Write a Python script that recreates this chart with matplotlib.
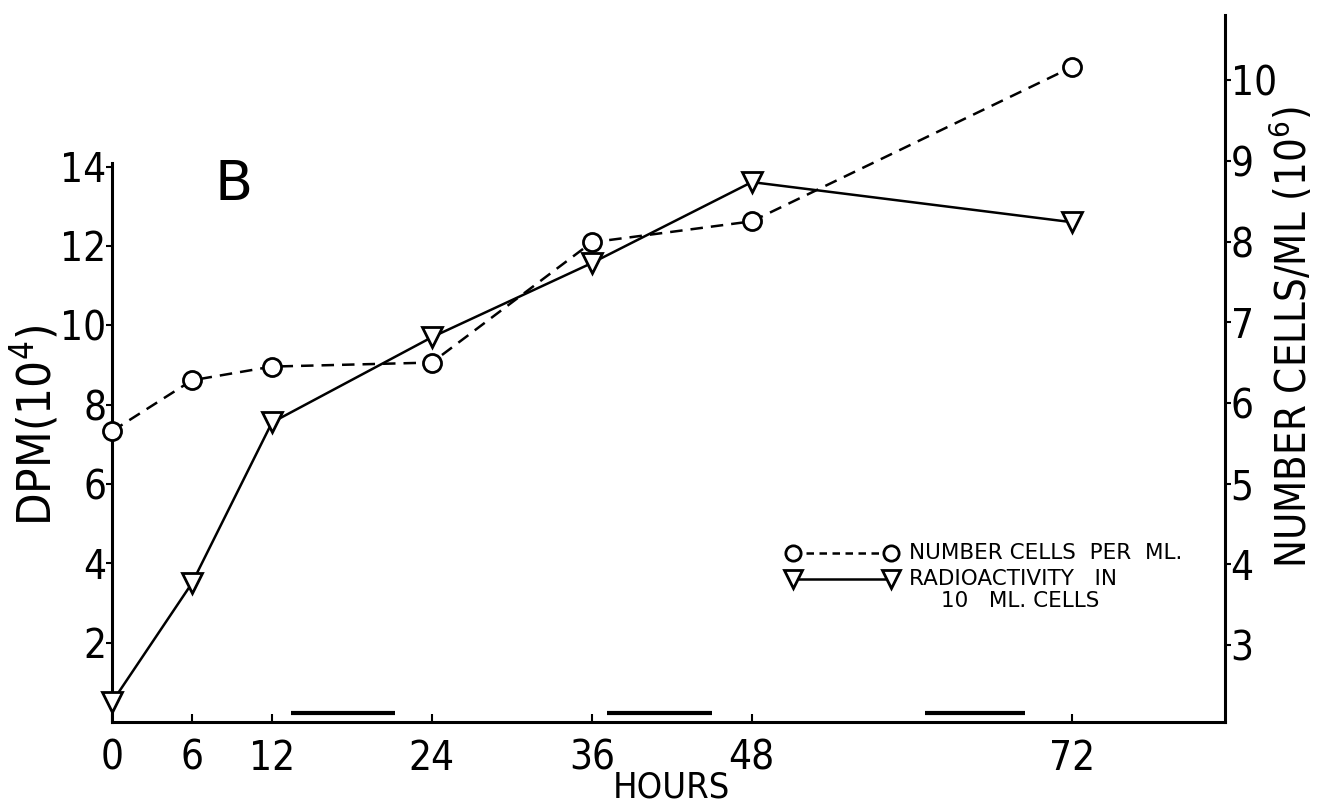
import matplotlib
matplotlib.use("Agg")
import matplotlib.pyplot as plt
import matplotlib.font_manager as fm

# ---- data ----
hours = [0, 6, 12, 24, 36, 48, 72]
cells_per_ml = [5.65, 6.28, 6.45, 6.5, 7.99, 8.25, 10.16]     # right axis, 10^6
dpm = [0.5, 3.5, 7.55, 9.7, 11.57, 13.61, 12.6]               # left axis, 10^4
dark_periods = [(13.4, 21.2), (37.1, 45.0), (61.0, 68.5)]      # hours
xticks = [0, 6, 12, 24, 36, 48, 72]
yticks_left = [2, 4, 6, 8, 10, 12, 14]
yticks_right = [3, 4, 5, 6, 7, 8, 9, 10]

# ---- pick a condensed face if one is installed ----
cond = {'condensed', 'semi-condensed', 'extra-condensed', 'ultra-condensed'}
cands = []
for f in fm.fontManager.ttflist:
    st = f.stretch
    ok = (st < 500) if isinstance(st, (int, float)) else (st in cond)
    if ok:
        cands.append(f)
pref = ['DejaVu Sans', 'Roboto', 'Open Sans', 'Noto Sans', 'Liberation Sans Narrow', 'Lato', 'Inter']
chosen = None
for p in pref:
    for f in cands:
        if f.name == p and f.style == 'normal':
            w = f.weight if isinstance(f.weight, int) else 400
            cw = (chosen.weight if isinstance(chosen.weight, int) else 400) if chosen else None
            if chosen is None or abs(w - 350) < abs(cw - 350):
                chosen = f
    if chosen is not None:
        break

if chosen is not None:
    cfont = dict(family=[chosen.name, 'DejaVu Sans'], stretch=chosen.stretch, weight=chosen.weight)
    sc = 1.0
else:
    cfont = dict(family=['DejaVu Sans'], stretch='normal', weight='normal')
    sc = 0.82
nfont = dict(family=['DejaVu Sans'], stretch='normal', weight='normal')

plt.rcParams['font.family'] = cfont['family']
plt.rcParams['font.stretch'] = cfont['stretch']
plt.rcParams['font.weight'] = cfont['weight']
plt.rcParams['mathtext.default'] = 'regular'

W, H = 1318, 806
fig = plt.figure(figsize=(W / 100, H / 100), dpi=100)
x0, x1 = 112, 1225
ybot, ytop = 722, 15
ax = fig.add_axes([x0 / W, 1 - ybot / H, (x1 - x0) / W, (ybot - ytop) / H])
ax.patch.set_alpha(0)

px_per_dpm = 39.67
px_per_cell = 80.7
ax.set_xlim(0, 83.5)
ax.set_ylim(0, (ybot - ytop) / px_per_dpm)

ax2 = ax.twinx()
r_lo = 3 - (ybot - 645) / px_per_cell
ax2.set_ylim(r_lo, r_lo + (ybot - ytop) / px_per_cell)

lw_ax = 2.2
for a in (ax, ax2):
    for s in a.spines.values():
        s.set_visible(False)
ax.spines['bottom'].set_visible(True)
ax.spines['bottom'].set_linewidth(lw_ax)
ax.spines['left'].set_visible(True)
ax.spines['left'].set_linewidth(lw_ax)
ax.spines['left'].set_bounds(0, 14.1)
ax2.spines['right'].set_visible(True)
ax2.spines['right'].set_linewidth(lw_ax)

tick_fs = 29 * sc
ax.set_xticks(xticks)
ax.set_xticklabels([str(t) for t in xticks], fontsize=tick_fs)
ax.tick_params(axis='x', direction='in', length=6, width=1.5, pad=12)
ax.set_yticks(yticks_left)
ax.set_yticklabels([str(t) for t in yticks_left], fontsize=tick_fs)
ax.tick_params(axis='y', direction='out', length=4, width=1.5, pad=0)
ax2.set_yticks(yticks_right)
ax2.set_yticklabels([str(t) for t in yticks_right], fontsize=tick_fs)
ax2.tick_params(axis='y', direction='out', length=4, width=1.5, pad=0)

ax.set_xlabel('HOURS', fontsize=26 * sc, va='baseline')
ax.xaxis.set_label_coords(0.503, -0.1065)
ax.set_ylabel('DPM(10$^4$)', fontsize=34 * sc)
ax.yaxis.set_label_coords(-0.046, 0.42)
ax2.set_ylabel('NUMBER CELLS/ML (10$^6$)', fontsize=30 * sc)
ax2.yaxis.set_label_coords(1.0395, 0.545)

# data series
ax2.plot(hours, cells_per_ml, color='black', lw=1.8, ls=(0, (5, 3.2)),
         marker='o', ms=13, mfc='white', mec='black', mew=2.0, zorder=3, clip_on=False)
ax.plot(hours, dpm, color='black', lw=1.8, ls='-',
        marker='v', ms=15, mfc='white', mec='black', mew=2.0, zorder=3, clip_on=False)

# dark periods
for a, b in dark_periods:
    ax.plot([a, b], [0.23, 0.23], color='black', lw=3, solid_capstyle='butt')

ax.text(0.092, 0.76, 'B', transform=ax.transAxes, fontsize=40, ha='left', va='center', **nfont)

# legend (manual)
lt = ax.transAxes
ly1, ly2, ly3 = 0.239, 0.202, 0.171
ax.plot([0.612, 0.700], [ly1, ly1], transform=lt, color='black', lw=1.8, ls=(0, (3, 2.2)),
        marker='o', ms=11, mfc='white', mec='black', mew=2.0, markevery=[0, 1], clip_on=False)
ax.plot([0.612, 0.700], [ly2, ly2], transform=lt, color='black', lw=1.8, ls='-',
        marker='v', ms=13, mfc='white', mec='black', mew=2.0, markevery=[0, 1], clip_on=False)
ax.text(0.716, ly1, 'NUMBER CELLS  PER  ML.', transform=lt, va='center', ha='left', fontsize=15.5, **nfont)
ax.text(0.716, ly2, 'RADIOACTIVITY   IN', transform=lt, va='center', ha='left', fontsize=15.5, **nfont)
ax.text(0.745, ly3, '10   ML. CELLS', transform=lt, va='center', ha='left', fontsize=15.5, **nfont)

fig.savefig('out.png', dpi=100, facecolor='white')
